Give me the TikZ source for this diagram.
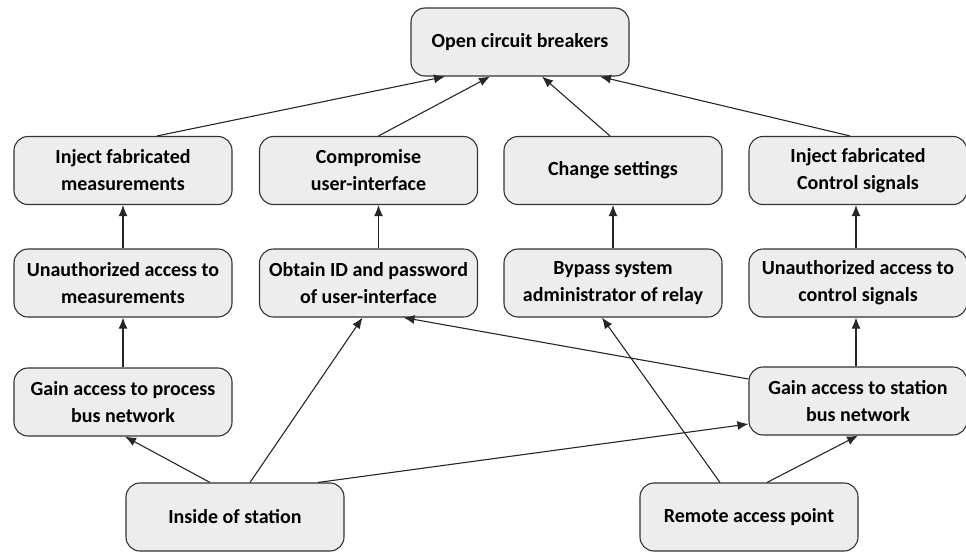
\documentclass[tikz,border=0pt]{standalone}
\usepackage{fontspec}
\setmainfont{Carlito}
\usetikzlibrary{arrows.meta}
\tikzset{box/.style = {draw=black!80, fill=black!7, rounded corners=14pt,
                       line width=1.1pt, minimum width=218pt, minimum height=68pt,
                       align=center, inner sep=2pt,
                       font=\bfseries\fontsize{20}{27}\selectfont}}
\tikzset{arr/.style = {-{Latex[length=11pt,width=9pt]}, line width=1.1pt, black!85}}

\begin{document}
\begin{tikzpicture}[x=1pt, y=-1pt]
      \useasboundingbox (0, 0) rectangle (966, 552);

      \node [box] (ocb) at (520, 42) {Open circuit breakers};

      \node [box] (ifm) at (123, 170.5) {Inject fabricated\\measurements};
      \node [box] (cui) at (368.5, 170.5) {Compromise\\user-interface};
      \node [box] (cs) at (613, 170.5) {Change settings};
      \node [box] (ifc) at (858, 170.5) {Inject fabricated\\Control signals};

      \node [box] (uam) at (123, 283) {Unauthorized access to\\measurements};
      \node [box] (oid) at (368.5, 283) {Obtain ID and password\\of user-interface};
      \node [box] (bsa) at (613, 283) {Bypass system\\administrator of relay};
      \node [box] (uac) at (858, 283) {Unauthorized access to\\control signals};

      \node [box] (gpb) at (123, 402) {Gain access to process\\bus network};
      \node [box] (gsb) at (858, 401) {Gain access to station\\bus network};

      \node [box] (ios) at (235, 517) {Inside of station};
      \node [box] (rap) at (749, 517) {Remote access point};

      \draw [arr] ([xshift=34pt]ifm.north) -- ([xshift=-75pt]ocb.south);
      \draw [arr] ([xshift=10pt]cui.north) -- ([xshift=-30pt]ocb.south);
      \draw [arr] ([xshift=-3pt]cs.north) -- ([xshift=22pt]ocb.south);
      \draw [arr] ([xshift=-8pt]ifc.north) -- ([xshift=80pt]ocb.south);

      \draw [arr] (uam) -- (ifm);
      \draw [arr] ([xshift=10pt]oid.north) -- ([xshift=10pt]cui.south);
      \draw [arr] (bsa) -- (cs);
      \draw [arr] ([xshift=-2pt]uac.north) -- ([xshift=-2pt]ifc.south);

      \draw [arr] (gpb) -- (uam);
      \draw [arr] ([xshift=-2pt]gsb.north) -- ([xshift=-2pt]uac.south);
      \draw [arr] ([yshift=22pt]gsb.west) -- ([xshift=35pt]oid.south);

      \draw [arr] ([xshift=-25pt]ios.north) -- ([xshift=2pt]gpb.south);
      \draw [arr] ([xshift=15pt]ios.north) -- ([xshift=-6pt]oid.south);
      \draw [arr] ([xshift=83pt]ios.north) -- ([yshift=-23pt]gsb.west);

      \draw [arr] ([xshift=-29pt]rap.north) -- ([xshift=-11pt]bsa.south);
      \draw [arr] ([xshift=18pt]rap.north) -- (gsb.south);
    \end{tikzpicture}
\end{document}
